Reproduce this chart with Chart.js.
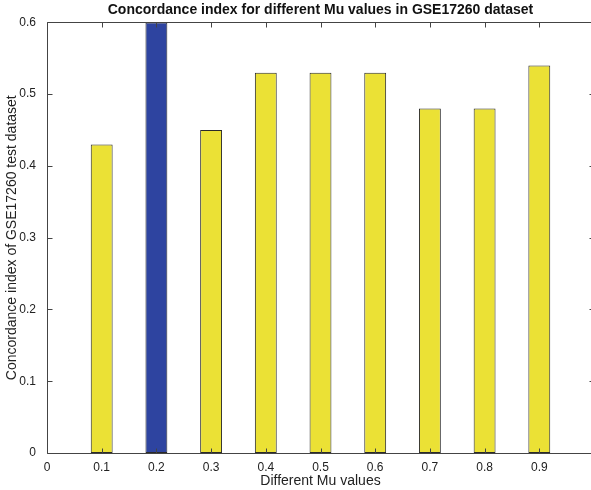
<!DOCTYPE html>
<html>
<head>
<meta charset="utf-8">
<script src="https://cdn.jsdelivr.net/npm/chart.js@4"></script>
<style>
  html, body { margin: 0; padding: 0; background: #fff; overflow: hidden; }
  #wrap { width: 591px; height: 490px; overflow: hidden; }
</style>
</head>
<body>
<!-- the axes box runs a few pixels past the right edge, as in the original figure -->
<div id="wrap"><canvas id="muChart" width="594" height="490"></canvas></div>
<script>
// values
const muValues = [0.1, 0.2, 0.3, 0.4, 0.5, 0.6, 0.7, 0.8, 0.9];
const concordance = [0.43, 0.60, 0.45, 0.53, 0.53, 0.53, 0.48, 0.48, 0.54];
const xTickLabels = ['0', '0.1', '0.2', '0.3', '0.4', '0.5', '0.6', '0.7', '0.8', '0.9', ''];
const yTickLabels = ['0', '0.1', '0.2', '0.3', '0.4', '0.5', '0.6'];

const YELLOW = '#ebe135';
const BLUE = '#2e44a0';
const FONT = "'Liberation Sans', Arial, Helvetica, sans-serif";

// matlab-ish axes box with inward ticks on all four sides
const boxPlugin = {
    id: 'matlabBox',
    afterDatasetsDraw(chart) {
        const { ctx, chartArea: a, scales: { x, y } } = chart;
        const L = Math.round(a.left) + 0.5, R = Math.round(a.right) + 0.5;
        const T = Math.round(a.top) + 0.5, B = Math.round(a.bottom) + 0.5;
        ctx.save();
        ctx.strokeStyle = '#444';
        ctx.lineWidth = 1;
        ctx.beginPath();
        ctx.moveTo(L, T); ctx.lineTo(R, T); ctx.lineTo(R, B); ctx.lineTo(L, B); ctx.closePath();
        x.ticks.forEach(t => {
            const px = Math.round(x.getPixelForValue(t.value)) + 0.5;
            ctx.moveTo(px, B); ctx.lineTo(px, B - 5);
            ctx.moveTo(px, T); ctx.lineTo(px, T + 5);
        });
        y.ticks.forEach(t => {
            const py = Math.round(y.getPixelForValue(t.value)) + 0.5;
            ctx.moveTo(L, py); ctx.lineTo(L + 5, py);
            ctx.moveTo(R, py); ctx.lineTo(R - 5, py);
        });
        ctx.stroke();
        ctx.restore();
    }
};

const best = concordance.indexOf(Math.max(...concordance));

new Chart(document.getElementById('muChart'), {
    type: 'bar',
    data: {
        datasets: [{
            data: muValues.map((m, i) => ({ x: m, y: concordance[i] })),
            backgroundColor: c => c.dataIndex === best ? BLUE : YELLOW,
            borderColor: '#2a2a2a',
            borderWidth: 1,
            borderSkipped: false,
            categoryPercentage: 0.4,
            barPercentage: 1
        }]
    },
    options: {
        responsive: false,
        animation: false,
        layout: { padding: 0 },
        plugins: {
            legend: { display: false },
            tooltip: { enabled: false },
            title: {
                display: true,
                fullSize: false,
                text: 'Concordance index for different Mu values in GSE17260 dataset',
                color: '#111',
                font: { family: FONT, size: 14, weight: 'bold' },
                padding: { top: 2, bottom: 3.6 }
            }
        },
        scales: {
            x: {
                type: 'linear',
                min: 0,
                max: 1,
                offset: false,
                grid: { display: false, offset: false, drawTicks: false },
                border: { display: false },
                ticks: {
                    stepSize: 0.1,
                    autoSkip: false,
                    maxRotation: 0,
                    padding: 7,
                    color: '#222',
                    font: { family: FONT, size: 12 },
                    callback: (v, i) => xTickLabels[i] ?? ''
                },
                title: {
                    display: true,
                    text: 'Different Mu values',
                    color: '#222',
                    font: { family: FONT, size: 14 },
                    padding: { top: 0, bottom: 0 }
                },
                afterFit: s => { s.height = 37; s.paddingLeft = 0; s.paddingRight = 0; }
            },
            y: {
                min: 0,
                max: 0.6,
                grid: { display: false, drawTicks: false },
                border: { display: false },
                ticks: {
                    stepSize: 0.1,
                    padding: 11,
                    color: '#222',
                    font: { family: FONT, size: 12 },
                    callback: (v, i) => yTickLabels[i] ?? ''
                },
                title: {
                    display: true,
                    text: 'Concordance index of GSE17260 test dataset',
                    color: '#222',
                    font: { family: FONT, size: 14 },
                    padding: { top: 4, bottom: 0 }
                },
                afterFit: s => { s.width = 47; }
            }
        }
    },
    plugins: [boxPlugin]
});
</script>
</body>
</html>
